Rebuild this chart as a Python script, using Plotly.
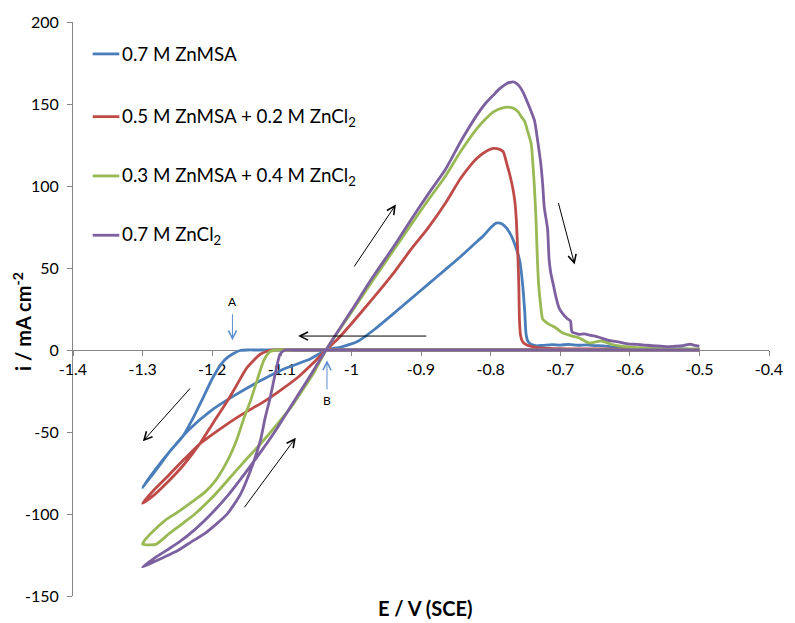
import plotly.graph_objects as go

# Cyclic voltammograms of zinc electrolytes (scan -0.5 V -> -1.3 V -> -0.5 V)
series_names = [
    "0.7 M ZnMSA",
    "0.5 M ZnMSA + 0.2 M ZnCl<sub>2</sub>",
    "0.3 M ZnMSA + 0.4 M ZnCl<sub>2</sub>",
    "0.7 M ZnCl<sub>2</sub>",
]
series_colors = ["#4A7EBB", "#BE4B48", "#98B954", "#7D60A0"]

msa_E = [
    -0.500, -0.800, -1.050, -1.135, -1.150, -1.160, -1.168, -1.178, -1.186, -1.199, -1.213, -1.227, -1.242,
    -1.260, -1.280, -1.300,
    -1.280, -1.260, -1.235, -1.202, -1.169, -1.131, -1.098, -1.060, -1.036,
    -1.015, -0.990, -0.966, -0.940, -0.915, -0.890, -0.865, -0.843, -0.825, -0.810,
    -0.800, -0.792, -0.784, -0.777, -0.770, -0.765, -0.758, -0.754, -0.751, -0.749,
    -0.746, -0.742, -0.735, -0.725, -0.712, -0.700, -0.688, -0.675, -0.662, -0.650,
    -0.638, -0.626, -0.612, -0.598, -0.585, -0.570, -0.555, -0.540, -0.525, -0.510, -0.500,
]
msa_i = [
    0, 0, 0, 0, 0, -0.3, -1.8, -4.5, -8.0, -16.8, -29.0, -41.1, -52.5,
    -61.4, -72.8, -83.7,
    -72.0, -61.4, -49.2, -37.1, -28.0, -18.8, -11.7, -5.7, 0.0,
    1.8, 5.5, 12.8, 22.0, 31.0, 40.0, 49.0, 57.0, 64.0, 69.8,
    74.5, 77.4, 77.0, 74.3, 69.5, 64.2, 54.1, 39.9, 23.7, 9.5,
    5.0, 3.5, 2.6, 2.8, 3.3, 3.0, 3.4, 2.9, 3.1, 2.7,
    2.5, 1.9, 1.4, 1.0, 0.9, 0.7, 0.6, 0.5, 0.6, 0.4, 0.5,
]

mix52_E = [
    -0.500, -0.800, -1.050, -1.100, -1.112, -1.120, -1.131, -1.150, -1.164, -1.178, -1.198, -1.218,
    -1.240, -1.265, -1.285, -1.300,
    -1.285, -1.265, -1.240, -1.218, -1.190, -1.160, -1.124, -1.100, -1.075, -1.055, -1.0365,
    -1.020, -1.000, -0.970, -0.9375, -0.915, -0.890, -0.865, -0.843, -0.820, -0.805,
    -0.796, -0.788, -0.782, -0.777, -0.7725, -0.768, -0.765, -0.763, -0.761, -0.7595,
    -0.7585, -0.757, -0.754, -0.748, -0.740, -0.730, -0.715, -0.700, -0.680, -0.660,
    -0.640, -0.610, -0.580, -0.550, -0.520, -0.500,
]
mix52_i = [
    0, 0, 0, 0, 0, -0.6, -2.6, -10.8, -20.8, -31.0, -44.0, -57.3,
    -69.5, -81.0, -89.0, -93.4,
    -86.0, -77.5, -66.5, -57.3, -48.5, -40.0, -31.0, -24.0, -16.0, -8.0, 0.0,
    6.5, 16.0, 31.0, 48.0, 61.0, 74.3, 89.5, 104.7, 116.8, 121.5,
    122.9, 122.5, 120.9, 114.0, 107.0, 98.5, 90.0, 79.0, 60.0, 40.0,
    18.0, 9.0, 5.0, 3.0, 2.0, 1.3, 1.0, 0.8, 0.7, 0.6,
    0.6, 0.5, 0.5, 0.4, 0.4, 0.4,
]

mix34_E = [
    -0.500, -0.800, -1.050, -1.095, -1.108, -1.117, -1.126, -1.1355, -1.145, -1.1543, -1.165, -1.178,
    -1.195, -1.210, -1.227, -1.250, -1.268, -1.285, -1.295, -1.300,
    -1.281, -1.262, -1.2416, -1.225, -1.200, -1.178, -1.155, -1.1308, -1.107, -1.0836, -1.068, -1.0553, -1.0365,
    -1.020, -1.000, -0.970, -0.9375, -0.915, -0.8904, -0.865, -0.8431, -0.8197, -0.808,
    -0.796, -0.784, -0.7725, -0.765, -0.760, -0.7555, -0.7512, -0.7465, -0.7418, -0.739,
    -0.737, -0.7348, -0.733, -0.731, -0.728, -0.7253, -0.7205, -0.7159, -0.7065, -0.697,
    -0.6829, -0.6734, -0.6593, -0.650, -0.6405, -0.6263, -0.610, -0.5885, -0.570, -0.550,
    -0.530, -0.510, -0.500,
]
mix34_i = [
    0, 0, 0, 0, 0, -1.0, -6.5, -18.5, -31.0, -41.5, -55.0, -67.5,
    -79.5, -86.5, -92.0, -99.0, -104.0, -110.5, -115.0, -118.3,
    -118.5, -112.0, -105.5, -100.0, -90.0, -79.6, -68.5, -57.3, -45.5, -33.0, -23.0, -14.8, 0.0,
    10.6, 23.0, 42.0, 62.0, 76.0, 91.0, 106.0, 121.0, 135.0, 140.5,
    145.2, 147.5, 148.0, 147.0, 145.0, 142.0, 139.5, 133.0, 126.0, 112.0,
    99.0, 80.0, 58.0, 40.0, 27.0, 19.0, 17.0, 15.6, 13.6, 10.5,
    8.5, 7.5, 4.4, 4.8, 5.5, 3.5, 2.2, 1.4, 1.0, 0.8,
    0.7, 0.6, 0.6,
]

cl_E = [
    -0.500, -0.800, -1.050, -1.085, -1.0955, -1.1025, -1.1096, -1.1167, -1.1238, -1.1308, -1.145, -1.1591,
    -1.178, -1.195, -1.2109, -1.230, -1.2487, -1.270, -1.288, -1.300,
    -1.285, -1.265, -1.2487, -1.225, -1.2016, -1.178, -1.1543, -1.130, -1.1072, -1.088, -1.0694,
    -1.055, -1.046, -1.0365,
    -1.020, -1.000, -0.970, -0.9375, -0.915, -0.8904, -0.865, -0.8431, -0.8197, -0.808,
    -0.796, -0.7865, -0.7772, -0.7700, -0.7654, -0.7600, -0.7536, -0.7490, -0.7441, -0.737,
    -0.7325, -0.7277, -0.7250, -0.7229, -0.7182, -0.7159, -0.7135, -0.7100, -0.7065, -0.7017,
    -0.6970, -0.6900, -0.6852, -0.6840, -0.6829, -0.6780, -0.6734, -0.6650, -0.6580, -0.6499,
    -0.6400, -0.6263, -0.6150, -0.6027, -0.5900, -0.5792, -0.5680, -0.5556, -0.5450, -0.5350,
    -0.5250, -0.5180, -0.5130, -0.5070, -0.5000,
]
cl_i = [
    0, 0, 0, 0, 0, -2.6, -14.8, -29.0, -41.1, -55.3, -73.5, -87.7,
    -99.8, -106.5, -112.0, -117.0, -122.1, -126.5, -130.0, -132.3,
    -127.5, -122.0, -117.5, -109.5, -100.0, -89.0, -76.0, -62.0, -48.0, -35.0, -22.5,
    -12.8, -6.5, 0.0,
    11.0, 24.0, 44.0, 64.2, 79.0, 94.6, 110.0, 127.0, 143.2, 150.0,
    155.4, 159.5, 162.4, 163.4, 163.3, 161.5, 157.4, 153.0, 148.0, 140.0,
    128.0, 113.0, 100.0, 87.0, 74.0, 55.0, 47.0, 40.0, 33.0, 25.7,
    22.5, 19.2, 17.6, 13.0, 11.0, 10.2, 9.5, 9.8, 9.0, 8.5,
    7.2, 5.5, 4.8, 3.8, 3.4, 3.0, 2.6, 2.4, 2.0, 2.3,
    2.6, 3.2, 3.5, 2.8, 2.4,
]

x_ticks = [-1.4, -1.3, -1.2, -1.1, -1.0, -0.9, -0.8, -0.7, -0.6, -0.5, -0.4]
x_tick_text = ["-1.4", "-1.3", "-1.2", "-1.1", "-1", "-0.9", "-0.8", "-0.7", "-0.6", "-0.5", "-0.4"]
y_ticks = [-150, -100, -50, 0, 50, 100, 150, 200]
y_tick_text = ["-150", "-100", "-50", "0", "50", "100", "150", "200"]

FONT = "Lato"
AXIS_GREY = "#868686"
LINE_W = 2.8

curves = [(msa_E, msa_i), (mix52_E, mix52_i), (mix34_E, mix34_i), (cl_E, cl_i)]

fig = go.Figure()
for (E, i), name, color in zip(curves, series_names, series_colors):
    fig.add_trace(go.Scatter(
        x=E, y=i, mode="lines", name=name,
        line=dict(color=color, width=LINE_W, shape="spline", smoothing=0.6),
        showlegend=False,
    ))

# Legend drawn as line samples + labels inside the plot area
legend_rows_y = [0.9444, 0.8351, 0.7318, 0.6285]
shapes = []
annotations = []
for name, color, yy in zip(series_names, series_colors, legend_rows_y):
    shapes.append(dict(type="line", xref="paper", yref="paper",
                       x0=0.0283, x1=0.0665, y0=yy, y1=yy,
                       line=dict(color=color, width=LINE_W)))
    annotations.append(dict(xref="paper", yref="paper", x=0.068, y=yy,
                            xanchor="left", yanchor="middle", showarrow=False,
                            text=name, font=dict(family=FONT, size=18.8, color="#000")))

# Sweep-direction arrows (black)
sweep_arrows = [
    ((-1.0765, 8.5), (-0.8903, 8.5)),
    ((-0.9361, 88.7), (-0.9974, 50.0)),
    ((-0.6792, 52.1), (-0.7031, 90.5)),
    ((-1.2996, -55.7), (-1.2298, -22.5)),
    ((-1.0799, -53.5), (-1.1553, -96.8)),
]
for (hx, hy), (tx, ty) in sweep_arrows:
    annotations.append(dict(x=hx, y=hy, ax=tx, ay=ty, xref="x", yref="y",
                            axref="x", ayref="y", text="", showarrow=True,
                            arrowhead=5, arrowsize=1.6, arrowwidth=1, arrowcolor="#000"))

# Markers A (nucleation onset) and B (crossover)
point_arrows = [
    ((-1.1709, 5.9), (-1.1709, 22.7), "A", 29.8),
    ((-1.0351, -6.3), (-1.0351, -24.9), "B", -30.6),
]
for (hx, hy), (tx, ty), label, ly in point_arrows:
    annotations.append(dict(x=hx, y=hy, ax=tx, ay=ty, xref="x", yref="y",
                            axref="x", ayref="y", text="", showarrow=True,
                            arrowhead=5, arrowsize=1.6, arrowwidth=1, arrowcolor="#5B8FCF"))
    annotations.append(dict(x=tx, y=ly, xref="x", yref="y", text=label, showarrow=False,
                            font=dict(family=FONT, size=12, color="#000")))

# Axis titles
annotations.append(dict(xref="paper", yref="paper", x=-0.0735, y=0.479, textangle=-90,
                        xanchor="center", yanchor="middle",
                        text="<b>i / mA cm<sup>-2</sup></b>", showarrow=False,
                        font=dict(family=FONT, size=20, color="#000")))
annotations.append(dict(xref="paper", yref="paper", x=0.506, y=-0.021,
                        xanchor="center", yanchor="middle",
                        text="<b>E / V (SCE)</b>", showarrow=False,
                        font=dict(family=FONT, size=20, color="#000")))

fig.update_layout(
    width=795, height=623,
    margin=dict(l=73, r=15, t=20, b=27),
    paper_bgcolor="white", plot_bgcolor="white",
    font=dict(family=FONT, size=16, color="#000"),
    shapes=shapes, annotations=annotations,
    xaxis=dict(
        range=[-1.4, -0.4], tickvals=x_ticks, ticktext=x_tick_text,
        anchor="free", position=150 / 350, layer="below traces",
        showline=True, linecolor=AXIS_GREY, linewidth=1,
        ticks="outside", ticklen=5, tickcolor=AXIS_GREY,
        showgrid=False, zeroline=False,
        tickfont=dict(family=FONT, size=16, color="#000"),
    ),
    yaxis=dict(
        range=[-150, 200], tickvals=y_ticks, ticktext=y_tick_text,
        layer="below traces", ticklabelstandoff=5,
        showline=True, linecolor=AXIS_GREY, linewidth=1,
        ticks="outside", ticklen=5, tickcolor=AXIS_GREY,
        showgrid=False, zeroline=False,
        tickfont=dict(family=FONT, size=16, color="#000"),
    ),
)

fig.write_html("out.html")
